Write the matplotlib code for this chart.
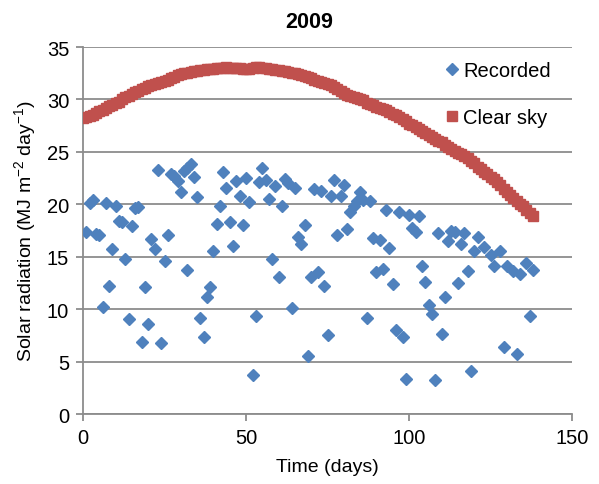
import matplotlib
matplotlib.use("Agg")
import matplotlib.pyplot as plt
import numpy as np

plt.rcParams['font.family'] = ['Liberation Sans', 'DejaVu Sans']
plt.rcParams['mathtext.fontset'] = 'custom'
plt.rcParams['mathtext.rm'] = 'Liberation Sans'
plt.rcParams['mathtext.it'] = 'Liberation Sans'

# measured daily radiation (days with data only)
rec_day = [1, 2, 3, 4, 5, 6, 7, 8, 9, 10, 11, 12, 13, 14, 15, 16, 17, 18, 19, 20,
           21, 22, 23, 24, 25, 26, 27, 28, 29, 30, 31, 32, 32, 33, 34, 35, 36, 37, 38, 39,
           40, 41, 42, 43, 44, 45, 46, 47, 48, 49, 50, 51, 52, 53, 54, 55, 56, 57, 58, 59,
           60, 61, 62, 63, 64, 65, 66, 67, 68, 69, 70, 71, 72, 73, 74, 75, 76, 77, 78, 79,
           80, 81, 82, 83, 84, 85, 86, 87, 88, 89, 90, 91, 92, 93, 94, 95, 96, 97, 98, 99,
           100, 101, 102, 103, 104, 105, 106, 107, 108, 109, 110, 111, 112, 113, 114, 115, 116, 117, 118, 119,
           120, 121, 123, 125, 126, 128, 129, 130, 132, 133, 134, 136, 137, 138]
rec_val = [17.4, 20.1, 20.4, 17.2, 17.1, 10.2, 20.1, 12.2, 15.7, 19.8, 18.4, 18.3, 14.8, 9.1, 17.9, 19.6, 19.7, 6.9, 12.1, 8.6,
           16.7, 15.7, 23.3, 6.8, 14.6, 17.1, 22.9, 22.7, 22.2, 21.2, 23.2, 13.7, 23.5, 23.8, 22.6, 20.7, 9.2, 7.3, 11.2, 12.1,
           15.5, 18.1, 19.8, 23.1, 21.6, 18.3, 16.0, 22.2, 20.8, 18.0, 22.5, 20.2, 3.7, 9.3, 22.1, 23.5, 22.3, 20.5, 14.8, 21.7,
           13.1, 19.8, 22.4, 22.0, 10.1, 21.6, 16.9, 16.2, 18.0, 5.5, 13.1, 21.5, 13.5, 21.3, 12.2, 7.5, 20.8, 22.3, 17.1, 20.8,
           21.8, 17.6, 19.3, 19.8, 20.3, 21.2, 20.4, 9.2, 20.3, 16.8, 13.5, 16.6, 13.8, 19.5, 15.8, 12.4, 8.0, 19.3, 7.3, 3.3,
           19.0, 17.7, 17.4, 18.9, 14.1, 12.6, 10.4, 9.5, 3.25, 17.3, 7.6, 11.2, 16.5, 17.5, 17.4, 12.5, 16.2, 17.3, 13.6, 4.1,
           15.5, 16.9, 15.9, 15.2, 14.1, 15.5, 6.4, 14.1, 13.6, 5.7, 13.4, 14.4, 9.3, 13.7]

# clear-sky radiation, days 0..138
clear_day = list(range(139))
clear_val = [28.2, 28.3, 28.4, 28.5, 28.7, 28.9, 29.0, 29.2, 29.4, 29.5,
             29.7, 29.8, 30.0, 30.2, 30.3, 30.5, 30.7, 30.8, 31.0, 31.1,
             31.3, 31.4, 31.5, 31.6, 31.7, 31.8, 31.9, 32.0, 32.1, 32.3,
             32.4, 32.5, 32.5, 32.6, 32.7, 32.7, 32.8, 32.8, 32.9, 32.9,
             32.9, 33.0, 33.0, 33.0, 33.1, 33.0, 33.0, 33.0, 33.0, 32.9,
             32.9, 32.9, 33.0, 33.1, 33.1, 33.0, 33.0, 32.9, 32.9, 32.8,
             32.8, 32.7, 32.7, 32.6, 32.5, 32.5, 32.4, 32.3, 32.2, 32.1,
             32.0, 31.9, 31.8, 31.7, 31.6, 31.5, 31.4, 31.2, 31.0, 30.8,
             30.6, 30.4, 30.3, 30.2, 30.1, 30.0, 29.9, 29.7, 29.6, 29.5,
             29.3, 29.2, 29.1, 29.0, 28.8, 28.6, 28.5, 28.3, 28.1, 27.9,
             27.7, 27.6, 27.4, 27.2, 27.0, 26.8, 26.6, 26.4, 26.2, 26.0,
             25.9, 25.7, 25.5, 25.3, 25.1, 24.9, 24.8, 24.6, 24.4, 24.1,
             23.9, 23.6, 23.4, 23.1, 22.9, 22.6, 22.4, 22.1, 21.8, 21.5,
             21.2, 20.9, 20.6, 20.3, 20.0, 19.8, 19.5, 19.2, 18.9]

fig = plt.figure(figsize=(5.99, 4.85), dpi=100)
ax = fig.add_axes([0.1386, 0.1443, 0.8164, 0.7567])

ax.plot(rec_day, rec_val, linestyle='none', marker='D', markersize=6.2,
        color='#4F81BD', label='Recorded', zorder=3)
ax.plot(clear_day, clear_val, linestyle='none', marker='s', markersize=7.5,
        color='#C0504D', label='Clear sky', zorder=4)

ax.set_xlim(0, 150)
ax.set_ylim(0, 35)
ax.set_xticks([0, 50, 100, 150])
ax.set_yticks(np.arange(0, 36, 5))
ax.yaxis.grid(True, color='#8c8c8c', linewidth=1.3)
ax.set_axisbelow(True)
for s in ['top', 'right']:
    ax.spines[s].set_visible(False)
for s in ['left', 'bottom']:
    ax.spines[s].set_color('#8c8c8c')
    ax.spines[s].set_linewidth(1.3)
ax.tick_params(axis='both', labelsize=14.5, color='#8c8c8c', length=5, width=1.3)
ax.tick_params(axis='y', pad=5)
ax.tick_params(axis='x', pad=5)

ax.set_xlabel('Time (days)', fontsize=14, labelpad=8)
ax.set_ylabel('Solar radiation (MJ m$^{-2}$ day$^{-1}$)', fontsize=14, labelpad=6)
fig.text(309 / 599, 1 - 22 / 485, '2009', fontsize=15.5, fontweight='bold',
         ha='center', va='center')

ax.legend(loc='upper right', frameon=False, fontsize=14.5, labelspacing=1.4,
          handletextpad=0.05, handlelength=1.0, borderaxespad=0.3,
          bbox_to_anchor=(0.985, 1.0))

fig.savefig('out.png', dpi=100)
